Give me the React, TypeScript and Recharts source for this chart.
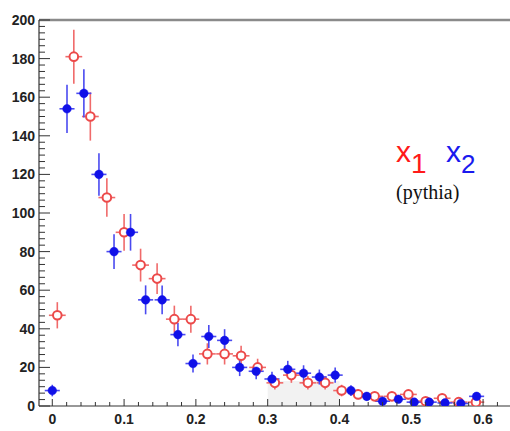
import React from "react";
import { ComposedChart, Scatter, XAxis, YAxis, ErrorBar, ReferenceLine, ReferenceArea } from "recharts";

// x1 (red, open markers)
const x1Pos = [0.007, 0.030, 0.053, 0.076, 0.100, 0.123, 0.146, 0.170, 0.193, 0.216, 0.240, 0.263, 0.286, 0.310, 0.333, 0.356, 0.380, 0.403, 0.426, 0.449, 0.473, 0.496, 0.520, 0.543, 0.566, 0.590];
const x1Val = [47, 181, 150, 108, 90, 73, 66, 45, 45, 27, 27, 26, 20, 12, 16, 12, 12, 8, 6, 5, 5, 6, 2.5, 4, 2, 2];
const x1Err = [6.8, 14, 12.5, 10, 9.5, 8.5, 8, 7, 7, 5.5, 5.5, 5.2, 4.5, 3.5, 4, 3.5, 3.5, 3, 2.5, 2.3, 2.3, 2.5, 1.7, 2, 1.5, 1.5];
const x1HalfBin = 0.0117;

// x2 (blue, filled markers)
const x2Pos = [0.0, 0.0205, 0.044, 0.065, 0.086, 0.109, 0.130, 0.153, 0.175, 0.196, 0.218, 0.240, 0.261, 0.284, 0.306, 0.328, 0.350, 0.372, 0.394, 0.416, 0.438, 0.460, 0.482, 0.504, 0.525, 0.547, 0.569, 0.591];
const x2Val = [8, 154, 162, 120, 80, 90, 55, 55, 37, 22, 36, 34, 20, 18, 14, 19, 17, 15, 16, 8, 5, 2.5, 3.5, 2, 2, 1.6, 1.3, 5];
const x2Err = [3, 12.5, 12.5, 11, 9, 9.5, 7.5, 7.5, 6, 4.7, 6, 5.8, 4.5, 4.2, 3.7, 4.4, 4.1, 3.9, 4, 2.8, 2.2, 1.6, 1.9, 1.4, 1.4, 1.3, 1.1, 2.2];
const x2HalfBin = 0.0105;

const xTickLabels = ["0", "0.1", "0.2", "0.3", "0.4", "0.5", "0.6"];
const yTickLabels = ["0", "20", "40", "60", "80", "100", "120", "140", "160", "180", "200"];

const red = "#ec4a4a";
const blue = "#1010e8";

const x1Data = x1Pos.map((x, i) => ({ x, y: x1Val[i], ey: x1Err[i], ex: x1HalfBin }));
const x2Data = x2Pos.map((x, i) => ({ x, y: x2Val[i], ey: x2Err[i], ex: x2HalfBin }));

const xMajor = xTickLabels.map((l) => parseFloat(l));
const xTicks: number[] = [];
for (let i = 0; i <= 31; i++) xTicks.push(Math.round(i * 0.02 * 1000) / 1000);
const yMajor = yTickLabels.map((l) => parseFloat(l));
const yTicks: number[] = [];
for (let i = 0; i <= 60; i++) yTicks.push(Math.round((i * 20) / 6 * 1000) / 1000);

const isMajorX = (v: number) => xMajor.some((m) => Math.abs(m - v) < 1e-6);
const isMajorY = (v: number) => yMajor.some((m) => Math.abs(m - v) < 1e-6);

const labelFont = { fontFamily: "'Liberation Sans', Arial, sans-serif", fontWeight: 700, fontSize: 14, fill: "#222" };

const XTick = (props: any) => {
  const { x, y, payload } = props;
  const v = payload.value;
  const major = isMajorX(v);
  const idx = xMajor.findIndex((m) => Math.abs(m - v) < 1e-6);
  return (
    <g>
      <line x1={x} x2={x} y1={y} y2={y - (major ? 7 : 4)} stroke="#333" strokeWidth={1} />
      {major && (
        <text x={x} y={y + 18} textAnchor="middle" {...labelFont}>
          {xTickLabels[idx]}
        </text>
      )}
    </g>
  );
};

const YTick = (props: any) => {
  const { x, y, payload } = props;
  const v = payload.value;
  const major = isMajorY(v);
  const idx = yMajor.findIndex((m) => Math.abs(m - v) < 1e-6);
  return (
    <g>
      <line x1={x} x2={x + (major ? 11 : 6)} y1={y} y2={y} stroke="#333" strokeWidth={1} />
      {major && (
        <text x={x - 4} y={y + 5} textAnchor="end" {...labelFont}>
          {yTickLabels[idx]}
        </text>
      )}
    </g>
  );
};

const OpenMarker = (props: any) => (
  <circle cx={props.cx} cy={props.cy} r={4.3} fill="#fff" stroke={red} strokeWidth={2} />
);
const FilledMarker = (props: any) => (
  <circle cx={props.cx} cy={props.cy} r={4.3} fill={blue} stroke={blue} strokeWidth={0.5} />
);

export default function App() {
  return (
    <div style={{ position: "absolute", left: 0, top: 0, width: 510, height: 431, background: "#fff" }}>
      <ComposedChart width={510} height={431} margin={{ top: 20, right: 0, bottom: 0, left: 0 }}>
        <XAxis
          dataKey="x"
          type="number"
          domain={[-0.0185, 0.6375]}
          allowDataOverflow
          ticks={xTicks}
          interval={0}
          height={25}
          tickSize={0}
          tickMargin={0}
          tick={<XTick />}
          tickLine={false}
          axisLine={{ stroke: "#333", strokeWidth: 1.2 }}
        />
        <YAxis
          dataKey="y"
          type="number"
          domain={[0, 200]}
          allowDataOverflow
          ticks={yTicks}
          interval={0}
          width={39}
          tickSize={0}
          tickMargin={0}
          tick={<YTick />}
          tickLine={false}
          axisLine={{ stroke: "#333", strokeWidth: 1.2 }}
        />
        <ReferenceArea x1={0.3} x2={0.4} y1={0} y2={13} fill="#f2f2f2" fillOpacity={1} stroke="none" />
        <ReferenceLine y={200} stroke="#8a8a8a" strokeWidth={2.5} />
        <Scatter data={x1Data} dataKey="y" isAnimationActive={false} shape={<OpenMarker />}>
          <ErrorBar dataKey="ey" direction="y" width={0} stroke="#f06a6a" strokeWidth={1.6} />
          <ErrorBar dataKey="ex" direction="x" width={0} stroke="#f06a6a" strokeWidth={1.6} />
        </Scatter>
        <Scatter data={x2Data} dataKey="y" isAnimationActive={false} shape={<FilledMarker />}>
          <ErrorBar dataKey="ey" direction="y" width={0} stroke="#4a4af0" strokeWidth={1.6} />
          <ErrorBar dataKey="ex" direction="x" width={0} stroke="#4a4af0" strokeWidth={1.6} />
        </Scatter>
      </ComposedChart>
      <svg width={510} height={431} style={{ position: "absolute", left: 0, top: 0, pointerEvents: "none" }}>
        <text x={396} y={162} fontSize={30} fill="#ff1a1a" fontFamily="'Liberation Sans', Arial, sans-serif">
          x<tspan dy={11} fontSize={28}>1</tspan>
        </text>
        <text x={446} y={162} fontSize={30} fill="#1a1aee" fontFamily="'Liberation Sans', Arial, sans-serif">
          x<tspan dy={11} fontSize={26}>2</tspan>
        </text>
        <text x={396} y={199} fontSize={20} fill="#111" fontFamily="'Liberation Serif', 'Times New Roman', serif">
          (pythia)
        </text>
      </svg>
    </div>
  );
}
